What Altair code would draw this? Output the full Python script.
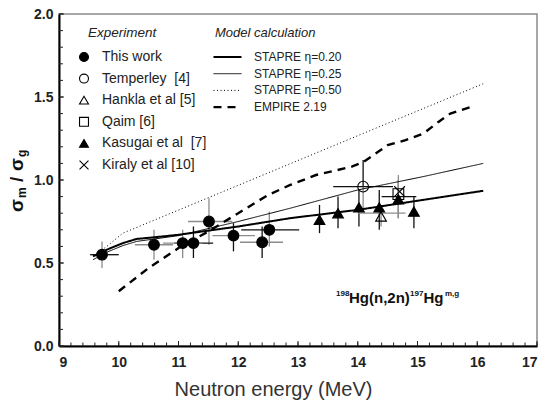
import altair as alt
import numpy as np
import pandas as pd

# ---------------- data ----------------
# This work
tw_e   = [9.72, 10.59, 11.07, 11.25, 11.51, 11.92, 12.40, 12.52]
tw_r   = [0.55, 0.61, 0.62, 0.62, 0.75, 0.665, 0.625, 0.70]
tw_elo = [9.52, 10.27, 10.74, 10.93, 11.16, 11.57, 12.03, 12.05]
tw_ehi = [10.00, 10.91, 11.40, 11.58, 11.90, 12.28, 12.75, 13.02]
tw_rlo = [0.47, 0.52, 0.53, 0.53, 0.61, 0.57, 0.53, 0.60]
tw_rhi = [0.63, 0.70, 0.70, 0.72, 0.89, 0.74, 0.72, 0.81]
tw_ex_gray = [False, True, True, False, True, True, True, False]
tw_er_gray = [True, True, True, False, True, False, False, True]

# Temperley [4]
te_e, te_r = [14.09], [0.96]
te_elo, te_ehi, te_rlo, te_rhi = [13.59], [14.59], [0.82], [1.12]
# Hankla et al [5]
ha_e, ha_r = [14.39], [0.78]
ha_elo, ha_ehi, ha_rlo, ha_rhi = [14.0], [14.8], [0.72], [0.85]
# Qaim [6]
qa_e, qa_r = [14.68], [0.915]
qa_elo, qa_ehi, qa_rlo, qa_rhi = [14.4], [14.98], [0.77], [1.03]
# Kasugai et al [7]
ka_e   = [13.36, 13.67, 14.02, 14.36, 14.68, 14.94]
ka_r   = [0.76, 0.80, 0.835, 0.835, 0.884, 0.81]
ka_rlo = [0.68, 0.71, 0.72, 0.70, 0.77, 0.71]
ka_rhi = [0.85, 0.90, 0.94, 0.94, 1.00, 0.90]
# Kiraly et al [10]
ki_e, ki_r = [14.70], [0.93]

# Model calculations
s20_e = [9.57, 9.8, 10.07, 10.3, 10.6, 11.0, 12.0, 12.87, 14.0, 15.09, 16.1]
s20_r = [0.54, 0.58, 0.62, 0.645, 0.655, 0.67, 0.72, 0.77, 0.82, 0.88, 0.935]
s25_e = [9.57, 9.8, 10.07, 10.3, 10.6, 11.0, 12.0, 12.87, 14.0, 15.09, 16.1]
s25_r = [0.52, 0.565, 0.605, 0.63, 0.645, 0.665, 0.75, 0.83, 0.94, 1.02, 1.10]
s50_e = [9.57, 9.8, 10.07, 12.0, 14.0, 16.1]
s50_r = [0.54, 0.60, 0.68, 0.968, 1.267, 1.58]
emp_e = [10.0, 10.5, 11.0, 11.5, 12.0, 12.5, 12.87, 13.3, 13.9, 14.1, 14.5, 14.8,
         15.1, 15.35, 15.55, 15.93]
emp_r = [0.33, 0.47, 0.59, 0.69, 0.80, 0.91, 0.97, 1.03, 1.08, 1.11, 1.21, 1.24,
         1.28, 1.35, 1.40, 1.445]

NB = "\u00a0"
exp_names = ["This work", "Temperley" + NB + " [4]", "Hankla et al [5]", "Qaim [6]",
             NB + "Kasugai et al" + NB + " [7]", "Kiraly et al [10]"]
model_names = ["STAPRE η=0.20", "STAPRE η=0.25", "STAPRE η=0.50", "EMPIRE 2.19"]

x_minor = [round(v, 1) for v in np.arange(9, 17.001, 0.2)]
x_major = list(range(9, 18))
y_minor = [round(v, 1) for v in np.arange(0, 2.001, 0.1)]
y_major = [0, 0.5, 1.0, 1.5, 2.0]

# ---------------- tables ----------------
pts = pd.concat([
    pd.DataFrame({"E": tw_e, "R": tw_r, "exp": exp_names[0]}),
    pd.DataFrame({"E": te_e, "R": te_r, "exp": exp_names[1]}),
    pd.DataFrame({"E": ha_e, "R": ha_r, "exp": exp_names[2]}),
    pd.DataFrame({"E": qa_e, "R": qa_r, "exp": exp_names[3]}),
    pd.DataFrame({"E": ka_e, "R": ka_r, "exp": exp_names[4]}),
    pd.DataFrame({"E": ki_e, "R": ki_r, "exp": exp_names[5]}),
], ignore_index=True)

hbars = pd.concat([
    pd.DataFrame({"lo": tw_elo, "hi": tw_ehi, "R": tw_r,
                  "tone": ["g" if g else "k" for g in tw_ex_gray]}),
    pd.DataFrame({"lo": te_elo, "hi": te_ehi, "R": te_r, "tone": "k"}),
    pd.DataFrame({"lo": ha_elo, "hi": ha_ehi, "R": [0.80], "tone": "g"}),
    pd.DataFrame({"lo": qa_elo, "hi": qa_ehi, "R": [0.90], "tone": "k"}),
], ignore_index=True)

vbars = pd.concat([
    pd.DataFrame({"E": tw_e, "lo": tw_rlo, "hi": tw_rhi,
                  "tone": ["g" if g else "k" for g in tw_er_gray]}),
    pd.DataFrame({"E": te_e, "lo": te_r, "hi": te_rhi, "tone": "k"}),
    pd.DataFrame({"E": te_e, "lo": te_rlo, "hi": te_r, "tone": "g"}),
    pd.DataFrame({"E": ha_e, "lo": ha_rlo, "hi": ha_rhi, "tone": "g"}),
    pd.DataFrame({"E": qa_e, "lo": qa_rlo, "hi": qa_rhi, "tone": "g"}),
    pd.DataFrame({"E": ka_e, "lo": ka_rlo, "hi": ka_rhi, "tone": "k"}),
], ignore_index=True)
vbars = vbars.sort_values("tone", ascending=False)
hbars = hbars.sort_values("tone", ascending=False)

lines = pd.concat([
    pd.DataFrame({"E": s20_e, "R": s20_r, "model": model_names[0]}),
    pd.DataFrame({"E": s25_e, "R": s25_r, "model": model_names[1]}),
    pd.DataFrame({"E": s50_e, "R": s50_r, "model": model_names[2]}),
    pd.DataFrame({"E": emp_e, "R": emp_r, "model": model_names[3]}),
], ignore_index=True)

# ---------------- styling ----------------
FONT = "Liberation Sans"
W, H = 478, 332

xscale = alt.Scale(domain=[9, 17], nice=False, zero=False)
yscale = alt.Scale(domain=[0, 2], nice=False, zero=False)
XAX = alt.Axis(values=x_major, format="d", title="Neutron energy (MeV)",
               titleX=214, titleY=49, titleBaseline="alphabetic", titleAlign="center",
               titleFontSize=20, titleFontWeight="normal", titleColor="#333", titleFont=FONT)
YAX = alt.Axis(values=y_major, format=".1f", title=None)

def X(f):
    return alt.X(f, type="quantitative", scale=xscale, axis=XAX)

def Y(f):
    return alt.Y(f, type="quantitative", scale=yscale, axis=YAX)

tone = alt.Color("tone:N", scale=alt.Scale(domain=["k", "g"], range=["#111111", "#8c8c8c"]),
                 legend=None)

vlayer = alt.Chart(vbars).mark_rule(strokeWidth=1.3).encode(
    x=X("E"), y=Y("lo"), y2="hi", color=tone)
hlayer = alt.Chart(hbars).mark_rule(strokeWidth=1.3).encode(
    x=X("lo"), x2="hi", y=Y("R"), color=tone)

line_legend = alt.Legend(orient="none", legendX=153, legendY=36, title=None,
                         symbolType="stroke", symbolSize=784, clipHeight=14,
                         rowPadding=2.7, symbolStrokeColor="black", labelOffset=11,
                         labelFont=FONT, labelFontSize=12, labelColor="#222")
line_layer = alt.Chart(lines).mark_line(color="black").encode(
    x=X("E"), y=Y("R"),
    strokeDash=alt.StrokeDash("model:N", legend=line_legend,
                              scale=alt.Scale(domain=model_names,
                                              range=[[1, 0], [1, 0], [1, 2.5], [8, 6]])),
    strokeWidth=alt.StrokeWidth("model:N", legend=line_legend,
                                scale=alt.Scale(type="ordinal", domain=model_names,
                                                range=[2.0, 1.0, 1.0, 2.4])),
)

pt_legend = alt.Legend(orient="none", legendX=18, legendY=36, title=None,
                       symbolSize=80, rowPadding=7.6, labelOffset=11,
                       symbolStrokeWidth=1.1,
                       labelFont=FONT, labelFontSize=14, labelColor="#222")
shapes = ["circle", "circle", "triangle-up", "square", "triangle-up",
          "M-1,-1L1,1M-1,1L1,-1"]
fills = ["black", "transparent", "transparent", "transparent", "black", "transparent"]
strokes = ["black"] * 6
pt_layer = alt.Chart(pts).mark_point(filled=False, strokeWidth=1.1,
                                     size=115, opacity=1).encode(
    x=X("E"), y=Y("R"),
    shape=alt.Shape("exp:N", legend=pt_legend,
                    scale=alt.Scale(domain=exp_names, range=shapes)),
    fill=alt.Fill("exp:N", legend=pt_legend,
                  scale=alt.Scale(domain=exp_names, range=fills)),
    stroke=alt.Stroke("exp:N", legend=pt_legend,
                      scale=alt.Scale(domain=exp_names, range=strokes)),
)

def xticks(vals, L):
    return alt.Chart(pd.DataFrame({"t": vals})).mark_rule(color="#222", strokeWidth=1).encode(
        x=X("t"), y=alt.value(H), y2=alt.value(H - L))

def yticks(vals, L):
    return alt.Chart(pd.DataFrame({"t": vals})).mark_rule(color="#222", strokeWidth=1).encode(
        y=Y("t"), x=alt.value(0), x2=alt.value(L))

one = pd.DataFrame({"a": [0]})

def txt(s, x, y, size, weight="bold", style="normal", angle=0, font=FONT, color="#222"):
    kw = dict(text=s, align="left", baseline="alphabetic", fontSize=size,
              fontWeight=weight, fontStyle=style, font=font, color=color)
    if angle:
        kw["angle"] = angle
    return alt.Chart(one).mark_text(**kw).encode(x=alt.value(x), y=alt.value(y))

texts = [
    # legend headings
    txt("Experiment", 29, 23, 13.5, weight="normal", style="italic"),
    txt("Model calculation", 156, 23, 13, weight="normal", style="italic"),
    # reaction label
    txt("198", 277, 282, 8, color="#111"),
    txt("Hg(n,2n)", 290, 289, 15, color="#111"),
    txt("197", 351, 282, 8, color="#111"),
    txt("Hg", 364.5, 289, 15, color="#111"),
    txt("m,g", 386, 282, 8, color="#111"),
    # y title  sigma_m / sigma_g
    txt("σ", -36, 198, 19, angle=270, color="#111"),
    txt("m", -33, 184, 12, angle=270, color="#111"),
    txt("/", -36, 168, 19, angle=270, color="#111"),
    txt("σ", -36, 157, 19, angle=270, color="#111"),
    txt("g", -33, 143, 12, angle=270, color="#111"),
]

chart = alt.layer(vlayer, hlayer, line_layer, pt_layer,
                  xticks(x_minor, 3.5), xticks(x_major, 5),
                  yticks(y_minor, 4), yticks(y_major, 5), *texts)
chart = chart.resolve_scale(color="independent").properties(
    width=W, height=H,
    autosize=alt.AutoSizeParams(type="none"),
    padding={"left": 59, "top": 14, "right": 4, "bottom": 59},
    background="white",
).configure_view(stroke="#8a8a8a", strokeWidth=1.5).configure_axis(
    grid=False, ticks=False, tickSize=0, domainColor="#000", domainWidth=2,
    labelFont=FONT, labelFontSize=14, labelFontWeight="bold", labelColor="#222",
).configure_axisX(labelPadding=9).configure_axisY(labelPadding=6)

chart.save("out.html", embed_options={"renderer": "svg", "actions": False})
